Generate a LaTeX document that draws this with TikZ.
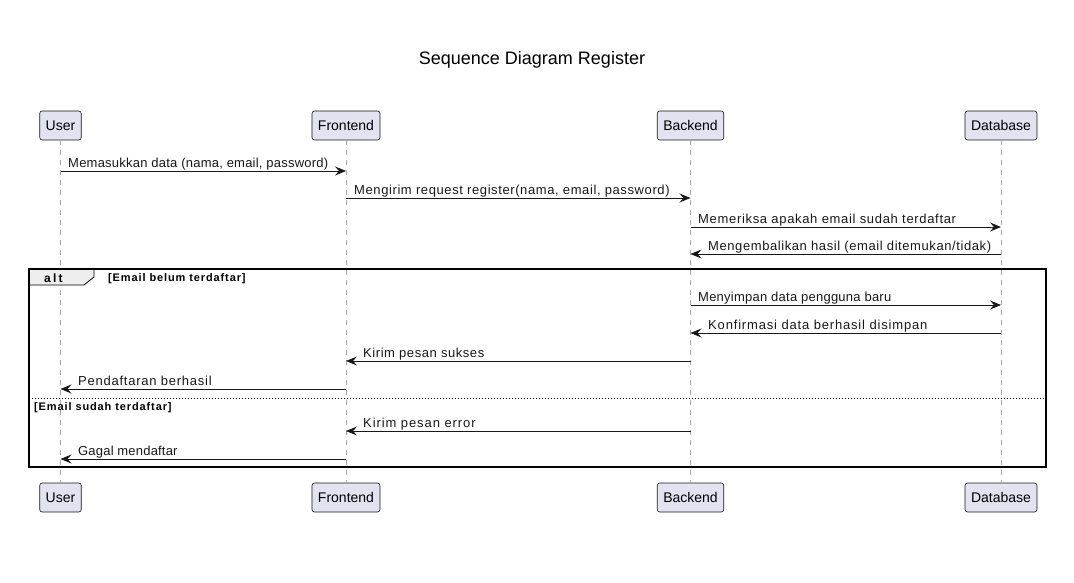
\documentclass[tikz,border=0pt]{standalone}
\usepackage{fontspec}
\setmainfont{Liberation Sans}
\newfontfamily\guardfont[LetterSpace=8]{Liberation Sans}
\newfontfamily\altfont[LetterSpace=18]{Liberation Sans}
\usetikzlibrary{arrows.meta}
\definecolor{partfill}{HTML}{E2E2F0}
\definecolor{ink}{HTML}{181818}
\definecolor{tabfill}{HTML}{EEEEEE}
\tikzset{
  part/.style={draw=ink, fill=partfill, rounded corners=2.5pt, line width=0.6pt, minimum height=29pt, inner xsep=6pt, font=\fontsize{14}{16}\selectfont},
  lifeline/.style={draw=gray!70, dash pattern=on 5pt off 5pt, line width=0.8pt},
  msg/.style={draw=ink, line width=0.9pt, -{Stealth[length=11pt,width=9pt,inset=4pt]}},
  lbl/.style={font=\fontsize{13}{15}\selectfont\addfontfeature{LetterSpace=#1}, inner sep=0pt, anchor=base west, text=ink},
  lbl/.default=0,
  guard/.style={font=\guardfont\bfseries\fontsize{11}{13}\selectfont, inner sep=0pt, anchor=base west, text=black},
}
\begin{document}
\begin{tikzpicture}[x=1pt, y=-1pt]
\useasboundingbox (0,0) rectangle (1074,583);
\fill[white] (0,0) rectangle (1074,583);
\node[font=\fontsize{18}{20}\selectfont] (title) at (532,60) {Sequence Diagram Register};
% participants
\node[part] (u1) at (60.5,125.5) {User};
\node[part] (f1) at (346,125.5) {Frontend};
\node[part] (b1) at (690.5,125.5) {Backend};
\node[part] (d1) at (1001,125.5) {Database};
\node[part] (u2) at (60.5,497.5) {User};
\node[part] (f2) at (346,497.5) {Frontend};
\node[part] (b2) at (690.5,497.5) {Backend};
\node[part] (d2) at (1001,497.5) {Database};
% lifelines
\draw[lifeline] (u1.south) -- (u2.north);
\draw[lifeline] (f1.south) -- (f2.north);
\draw[lifeline] (b1.south) -- (b2.north);
\draw[lifeline] (d1.south) -- (d2.north);
% alt frame
\draw[fill=tabfill, draw=black, line width=0.8pt] (29,269) -- (94,269) -- (94,277) -- (84,285) -- (29,285) -- cycle;
\node[font=\altfont\bfseries\fontsize{12}{14}\selectfont, inner sep=0pt, anchor=base west] (alt) at (44,282) {alt};
\draw[black, line width=1.6pt] (29,269) rectangle (1046,467);
\node[guard] (g1) at (108,281) {[Email belum terdaftar]};
\draw[black, line width=0.8pt, dash pattern=on 1.2pt off 1.8pt] (29,398) -- (1046,398);
\node[guard] (g2) at (34,410) {[Email sudah terdaftar]};
% message coordinates
\foreach \n/\y in {1/171,2/198,3/227,4/254,5/305,6/333,7/361,8/389,9/431,10/459}{
  \coordinate (mU\n) at (u1 |- 0,\y);
  \coordinate (mF\n) at (f1 |- 0,\y);
  \coordinate (mB\n) at (b1 |- 0,\y);
  \coordinate (mD\n) at (d1 |- 0,\y);
}
% messages
\draw[msg] (mU1) -- (mF1);
\node[lbl=1.8] (l1) at (68,167.5) {Memasukkan data (nama, email, password)};
\draw[msg] (mF2) -- (mB2);
\node[lbl=4.6] (l2) at (354,194.5) {Mengirim request register(nama, email, password)};
\draw[msg] (mB3) -- (mD3);
\node[lbl=5.2] (l3) at (698,223.5) {Memeriksa apakah email sudah terdaftar};
\draw[msg] (mD4) -- (mB4);
\node[lbl=4.5] (l4) at (708,250.5) {Mengembalikan hasil (email ditemukan/tidak)};
\draw[msg] (mB5) -- (mD5);
\node[lbl=1.9] (l5) at (698,301.5) {Menyimpan data pengguna baru};
\draw[msg] (mD6) -- (mB6);
\node[lbl=6.4] (l6) at (708,329.5) {Konfirmasi data berhasil disimpan};
\draw[msg] (mB7) -- (mF7);
\node[lbl=4.3] (l7) at (363,357.5) {Kirim pesan sukses};
\draw[msg] (mF8) -- (mU8);
\node[lbl=5.8] (l8) at (78,385.5) {Pendaftaran berhasil};
\draw[msg] (mB9) -- (mF9);
\node[lbl=7] (l9) at (363,427.5) {Kirim pesan error};
\draw[msg] (mF10) -- (mU10);
\node[lbl=1.5] (l10) at (78,455.5) {Gagal mendaftar};
\end{tikzpicture}
\end{document}
